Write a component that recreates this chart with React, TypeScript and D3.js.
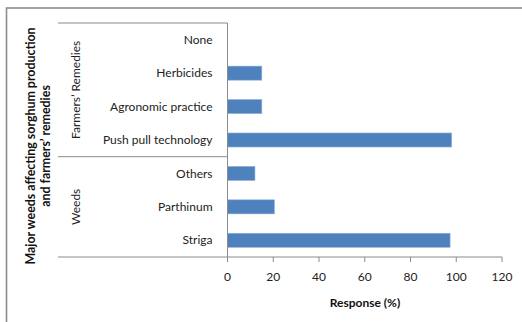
import React from "react";
import * as d3 from "d3";

const categories = ["Striga", "Parthinum", "Others", "Push pull technology", "Agronomic practice", "Herbicides", "None"];
const responses = [97.3, 20.5, 12, 98, 15, 15, 0];
const groupNames = ["Weeds", "Farmers’ Remedies"];
const groupSizes = [3, 4];
const xTicks = [0, 20, 40, 60, 80, 100, 120];

const W = 522;
const H = 322;
const FONT = "Lato, 'Open Sans', sans-serif";

export default function App() {
  const plotLeft = 227.5;
  const plotRight = 502;
  const plotTop = 23;
  const plotBottom = 257;
  const groupLeft = 58;

  const x = d3.scaleLinear().domain([0, 120]).range([plotLeft, plotRight]);
  const y = d3
    .scaleBand<string>()
    .domain([...categories].reverse())
    .range([plotTop, plotBottom])
    .paddingInner(0.58)
    .paddingOuter(0.29);

  const axisColor = "#8a8a8a";
  const rowH = (plotBottom - plotTop) / categories.length;

  // group boundaries, counted from the bottom of the plot
  let acc = 0;
  const groups = groupNames.map((name, i) => {
    const start = acc;
    acc += groupSizes[i];
    return { name, yTop: plotBottom - acc * rowH, yBottom: plotBottom - start * rowH };
  });

  return (
    <svg
      width={W}
      height={H}
      style={{ position: "fixed", left: 0, top: 0, display: "block", background: "#fff" }}
      fontFamily={FONT}
    >
      {/* outer chart frame */}
      <rect x={6.5} y={8} width={W + 20} height={H + 20} fill="#fff" stroke="#8c8c8c" strokeWidth={1.6} />

      {/* bars */}
      {categories.map((c, i) => (
        <rect
          key={c}
          x={x(0)}
          y={y(c)!}
          width={x(responses[i]) - x(0)}
          height={y.bandwidth()}
          fill="#4F81BD"
          stroke="#8db0dc"
          strokeWidth={0.6}
        />
      ))}

      {/* vertical category axis line */}
      <line x1={plotLeft} x2={plotLeft} y1={plotTop} y2={plotBottom + 5} stroke={axisColor} strokeWidth={1} />

      {/* group separators */}
      {[plotTop, ...groups.map((g) => g.yTop).slice(0, -1), plotBottom].map((yy, i) => (
        <line key={i} x1={groupLeft} x2={plotLeft} y1={yy} y2={yy} stroke={axisColor} strokeWidth={1} />
      ))}

      {/* x axis */}
      <line x1={plotLeft} x2={plotRight} y1={plotBottom} y2={plotBottom} stroke={axisColor} strokeWidth={1} />
      {xTicks.map((t) => (
        <g key={t}>
          <line x1={x(t)} x2={x(t)} y1={plotBottom} y2={plotBottom + 5} stroke={axisColor} strokeWidth={1} />
          <text x={x(t)} y={plotBottom + 24} textAnchor="middle" fontSize={12} fill="#222">
            {t}
          </text>
        </g>
      ))}

      {/* category labels */}
      {categories.map((c) => (
        <text
          key={c}
          x={plotLeft - 15}
          y={y(c)! + y.bandwidth() / 2}
          dy="0.35em"
          textAnchor="end"
          fontSize={12}
          fill="#222"
        >
          {c}
        </text>
      ))}

      {/* group labels */}
      {groups.map((g) => (
        <text
          key={g.name}
          transform={`translate(80,${(g.yTop + g.yBottom) / 2}) rotate(-90)`}
          textAnchor="middle"
          fontSize={12}
          fill="#222"
        >
          {g.name}
        </text>
      ))}

      {/* axis titles */}
      <text x={365} y={307} textAnchor="middle" fontSize={12} fontWeight="bold" fill="#111">
        Response (%)
      </text>
      <text transform="translate(0,146) rotate(-90)" textAnchor="middle" fontSize={12.4} fontWeight="bold" fill="#111">
        <tspan x={0} y={35}>Major weeds affecting sorghum production</tspan>
        <tspan x={0} y={49.5}>and farmers’ remedies</tspan>
      </text>
    </svg>
  );
}
